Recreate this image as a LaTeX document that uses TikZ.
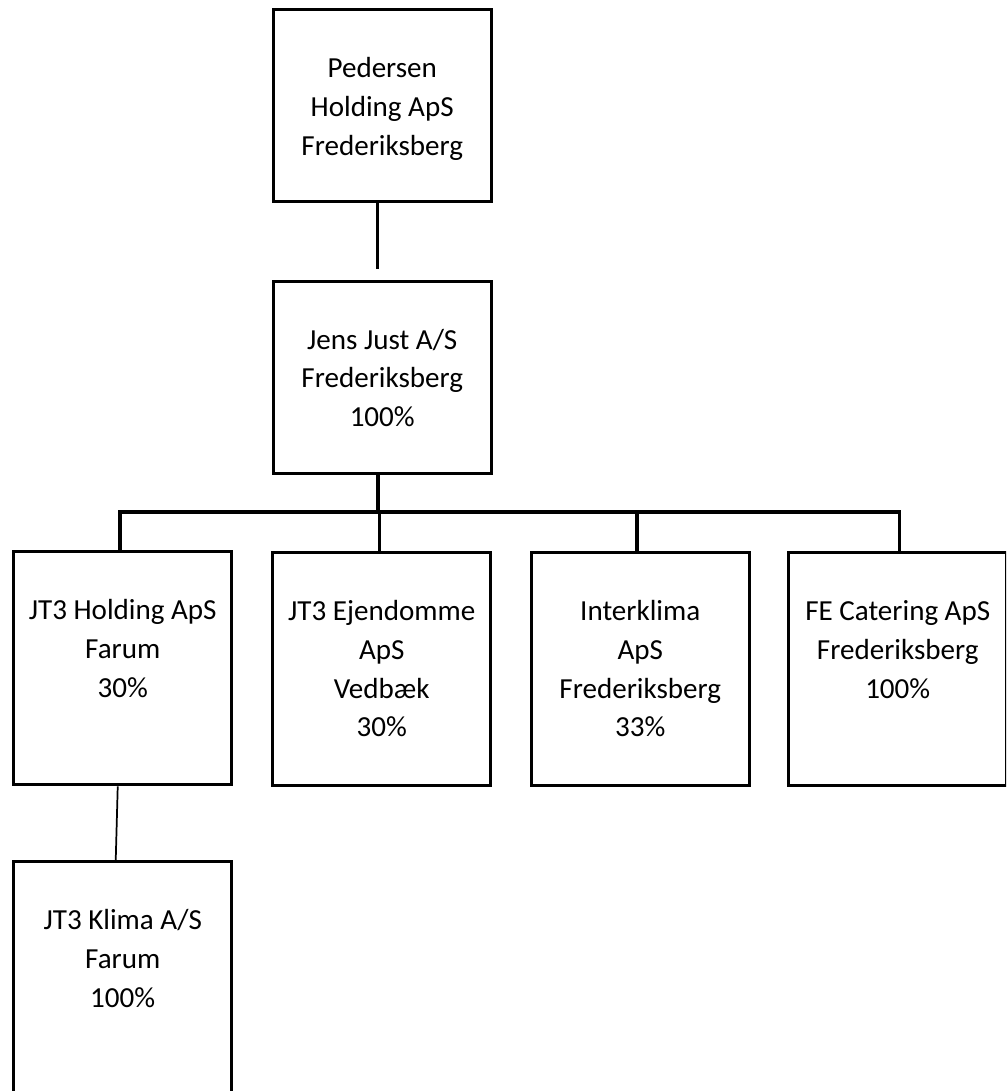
\documentclass[tikz,border=0pt]{standalone}
\usepackage{fontspec}
\setmainfont{Carlito}
\usetikzlibrary{positioning}
\tikzset{
  boxln/.style={draw, line width=2.6pt, inner sep=0pt, text width=163.5pt, align=flush center,
    anchor=north west, font=\fontsize{21.8}{29}\selectfont, text height=51pt},
  shortbox/.style={boxln, text depth=93pt},
  tallbox/.style={boxln, text depth=123.75pt},
  linkln/.style={line width=2.6pt},
  thinln/.style={line width=1.3pt},
}

\begin{document}
\begin{tikzpicture}[x=0.75pt, y=-0.75pt]
    \useasboundingbox (0,0) rectangle (1006,1091);
    \clip (0,0) rectangle (1006,1091);
    % owners
    \node[shortbox] (ped) at (271.5,8) {Pedersen\\Holding ApS\\Frederiksberg};
    \node[shortbox] (jens) at (271.5,279.5) {Jens Just A/S\\Frederiksberg\\100\%};
    % subsidiaries
    \node[tallbox] (hold) at (12,550) {JT3 Holding ApS\\Farum\\30\%};
    \node[tallbox] (ejend) at (271,551) {JT3 Ejendomme\\ApS\\Vedbæk\\30\%};
    \node[tallbox] (inter) at (529.5,551) {Interklima\\ApS\\Frederiksberg\\33\%};
    \node[tallbox] (cater) at (787,551) {FE Catering ApS\\Frederiksberg\\100\%};
    \node[tallbox] (klima) at (12,860) {JT3 Klima A/S\\Farum\\100\%};
    % connectors
    \coordinate (bus) at (378,512);
    \draw[linkln] ([xshift=-3.4pt]ped.south) -- ([xshift=-3.4pt,yshift=8pt]jens.north);
    \draw[linkln] (bus |- jens.south) -- (bus);
    \draw[linkln] ([xshift=-2.2pt]hold.north) |- (bus) -| ([xshift=1.5pt]cater.north);
    \draw[linkln] ([xshift=-1.5pt]ejend.north) -- ([xshift=-1.5pt]ejend.north |- bus);
    \draw[linkln] ([xshift=-2.6pt]inter.north) -- ([xshift=-2.6pt]inter.north |- bus);
    \draw[thinln] ([xshift=-3.75pt]hold.south) -- ([xshift=-5.25pt]klima.north);
\end{tikzpicture}
\end{document}
